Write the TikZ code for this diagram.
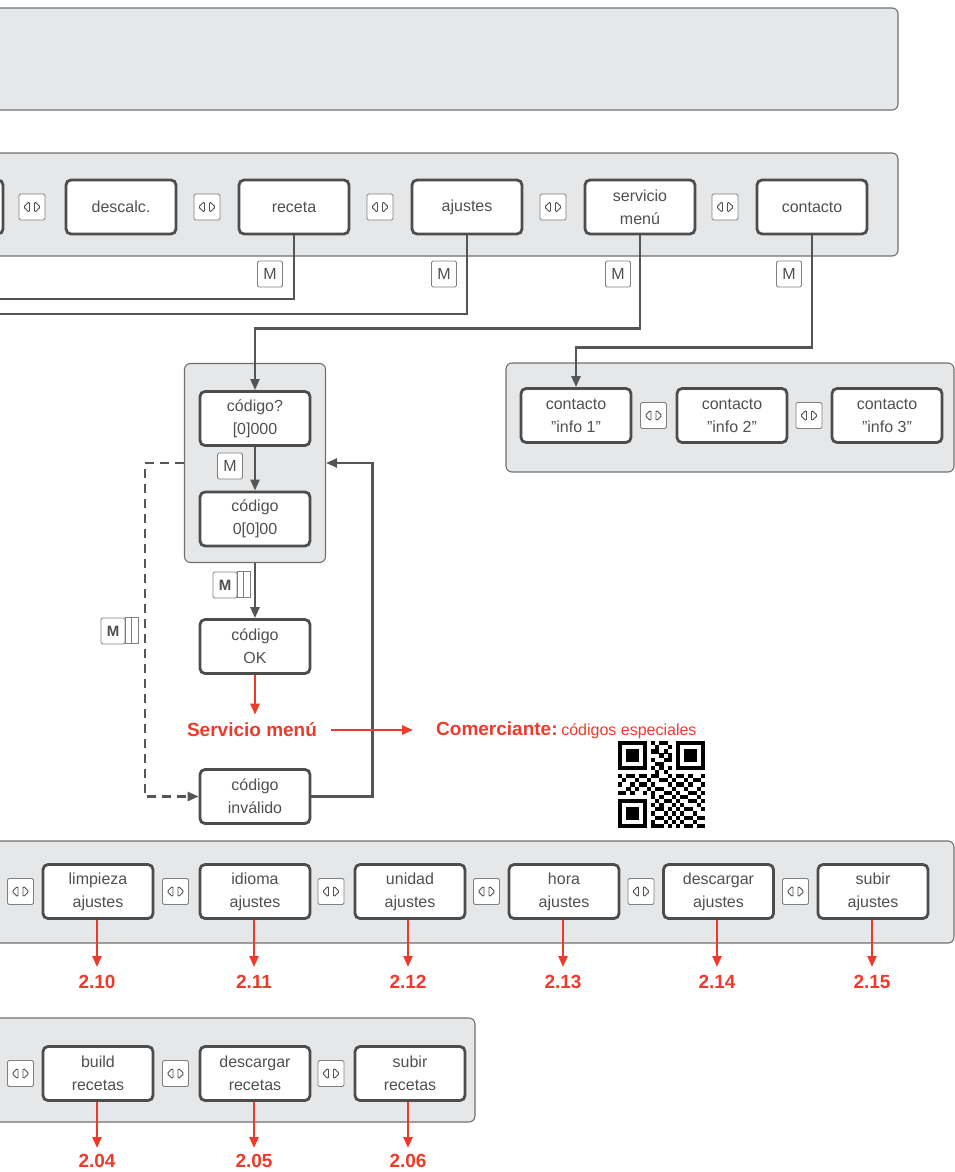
\documentclass[tikz,border=0pt]{standalone}
\usepackage{fontspec}
\setmainfont{Liberation Sans}
\usetikzlibrary{arrows.meta}
\definecolor{panelfill}{HTML}{E6E7E8}
\definecolor{panelline}{HTML}{707070}
\definecolor{boxline}{HTML}{4D4D4D}
\definecolor{keyline}{HTML}{808080}
\definecolor{txt}{HTML}{505050}
\definecolor{linecol}{HTML}{555555}
\definecolor{redcol}{HTML}{EE3A2A}

\begin{document}
\begin{tikzpicture}[x=1pt,y=-1pt,
  panel/.style={draw=panelline, fill=panelfill, rounded corners=6pt, line width=1.1pt},
  mbox/.style={draw=boxline, fill=white, rounded corners=5pt, line width=2.8pt, minimum width=110pt, minimum height=54pt, inner sep=0pt, align=center, text=txt, font=\fontsize{16}{23}\selectfont},
  key/.style={draw=keyline, fill=white, rounded corners=1.5pt, line width=0.8pt, minimum width=26pt, minimum height=26pt, inner sep=0pt, text=txt},
  nav/.style={key, path picture={
    \draw[txt, line width=0.9pt, line join=round, shift={(path picture bounding box.center)}]
      (-8.5,0) -- (-2.5,-5.5) -- (-2.5,5.5) -- cycle (2.5,-5.5) -- (8.5,0) -- (2.5,5.5) -- cycle;}},
  mkey/.style={key, minimum width=25pt, font=\fontsize{16}{16}\selectfont},
  mstack/.style={key, minimum width=24pt, font=\bfseries\fontsize{15}{15}\selectfont},
  link/.style={draw=linecol, line width=2.4pt},
  redlink/.style={draw=redcol, line width=2.4pt},
  tip/.style={-{Triangle[length=11pt,width=9pt]}},
  num/.style={text=redcol, font=\bfseries\fontsize{19}{19}\selectfont, inner sep=0pt, anchor=north},
  redtxt/.style={text=redcol, inner sep=0pt}]
\useasboundingbox (0,0) rectangle (955,1172);

% panels
\draw[panel] (-10,8) rectangle (898,110);
\draw[panel] (-10,153) rectangle (898,256);
\node[panel, minimum width=141pt, minimum height=199pt] (codepanel) at (255,463) {};
\draw[panel] (506,363) rectangle (954,472);
\draw[panel] (-10,841) rectangle (954,943);
\draw[panel] (-10,1018) rectangle (475,1122);

% main menu row
\node[mbox] (prev) at (-52,207) {};
\node[nav] (nv1) at (32,207) {};
\node[mbox] (descalc) at (121,207) {descalc.};
\node[nav] (nv2) at (207,207) {};
\node[mbox] (receta) at (294,207) {receta};
\node[nav] (nv3) at (380,207) {};
\node[mbox] (ajustes) at (467,207) {ajustes};
\node[nav] (nv4) at (553,207) {};
\node[mbox] (servicio) at (640,207) {servicio\\menú};
\node[nav] (nv5) at (725,207) {};
\node[mbox] (contacto) at (812,207) {contacto};

\node[mkey] (mrec) at (270,274) {M};
\node[mkey] (majs) at (444,274) {M};
\node[mkey] (msrv) at (618,274) {M};
\node[mkey] (mcon) at (789,274) {M};

\coordinate (recout) at (-10,299);
\coordinate (ajsout) at (-10,314);
\draw[link] (receta.south) |- (recout);
\draw[link] (ajustes.south) |- (ajsout);

% code entry
\node[mbox] (code1) at (255,418.5) {código?\\{[0]000}};
\node[mbox] (code2) at (255,519) {código\\0[0]00};
\node[mkey] (mcode) at (230,466) {M};
\node[mbox] (codeok) at (255,646.5) {código\\OK};
\node[mbox] (codebad) at (255,796.5) {código\\inválido};
\node[mstack] (mm1) at (225,585) {M};
\draw[keyline, line width=0.8pt, fill=white] (mm1.north east) rectangle ++(6,26) ++(0,-26) rectangle ++(7,26);
\node[mstack] (mm2) at (113,631) {M};
\draw[keyline, line width=0.8pt, fill=white] (mm2.north east) rectangle ++(6,26) ++(0,-26) rectangle ++(7,26);

\draw[link, tip] (servicio.south) -- ++(0,93) -| (code1.north);
\draw[link, tip] (code1.south) -- (code2.north);
\draw[link, tip] (codepanel.south) -- (codeok.north);
\draw[link, tip, dash pattern=on 9pt off 6pt] (codepanel.west) -- ++(-39,0) |- (codebad.west);
\draw[link, tip] (codebad.east) -- ++(61,0) |- (codepanel.east);

\node[redtxt, font=\bfseries\fontsize{19}{19}\selectfont] (svc) at (252,730) {Servicio menú};
\node[redtxt, anchor=west] (com) at (436,730) {{\bfseries\fontsize{19}{19}\selectfont Comerciante:} {\fontsize{16}{16}\selectfont códigos especiales}};
\draw[redlink, tip, shorten >=8pt] (codeok.south) -- (codeok.south |- svc.north);
\draw[redlink, tip, shorten <=14pt, shorten >=23pt] (svc.east) -- (svc.east -| com.west);

% qr code
\begin{scope}[shift={(618,741)}, x=4.14pt, y=-4.14pt]
\foreach \a/\b in {0/0,14/0,0/14} {
  \fill (\a,\b) rectangle ++(7,7);
  \fill[white] (\a+1,\b+1) rectangle ++(5,5);
  \fill (\a+2,\b+2) rectangle ++(3,3);
}
\foreach \r/\cs in {0/{8,10,11},1/{9,12},2/{8,9,11},3/{10,12},4/{8,11,12},5/{9,10},6/{8,10,12},7/{9,11},
  8/{0,2,3,5,6,8,9,12,14,15,17,20},9/{1,4,7,10,11,13,16,18,19},10/{0,3,5,6,8,12,14,15,17,20},
  11/{2,4,7,9,10,13,16,19},12/{0,1,3,6,8,11,12,14,17,18,20},13/{8,10,13,15,16,19},
  14/{9,11,12,14,17,18,20},15/{8,10,13,15,19},16/{9,10,12,14,16,17,20},17/{8,11,13,15,18},
  18/{9,10,12,14,16,17,19,20},19/{8,11,13,15,18},20/{8,9,10,12,14,16,17,19,20}}
  \foreach \c in \cs \fill (\c,\r) rectangle ++(1.02,1.02);
\end{scope}

% contact info
\node[mbox] (info1) at (576,415.5) {contacto\\"info 1”};
\node[nav] (nv6) at (653.5,415.5) {};
\node[mbox] (info2) at (732,415.5) {contacto\\"info 2”};
\node[nav] (nv7) at (809,415.5) {};
\node[mbox] (info3) at (887,415.5) {contacto\\"info 3”};
\draw[link, tip] (contacto.south) -- ++(0,112) -| (info1.north);

% settings row
\node[mbox] (prev2) at (-57,891.5) {};
\node[nav] (nv8) at (20.5,891.5) {};
\node[mbox] (limp) at (98,891.5) {limpieza\\ajustes};
\node[nav] (nv9) at (175.5,891.5) {};
\node[mbox] (idioma) at (255,891.5) {idioma\\ajustes};
\node[nav] (nv10) at (331,891.5) {};
\node[mbox] (unidad) at (410,891.5) {unidad\\ajustes};
\node[nav] (nv11) at (486.5,891.5) {};
\node[mbox] (hora) at (564,891.5) {hora\\ajustes};
\node[nav] (nv12) at (641,891.5) {};
\node[mbox] (descaj) at (718.5,891.5) {descargar\\ajustes};
\node[nav] (nv13) at (795.5,891.5) {};
\node[mbox] (subaj) at (873,891.5) {subir\\ajustes};

\node[num] (n210) at (97,975) {2.10};
\node[num] (n211) at (254,975) {2.11};
\node[num] (n212) at (408,975) {2.12};
\node[num] (n213) at (563,975) {2.13};
\node[num] (n214) at (717,975) {2.14};
\node[num] (n215) at (872,975) {2.15};
\draw[redlink, tip, shorten >=8pt] (limp.south -| n210) -- (n210.north);
\draw[redlink, tip, shorten >=8pt] (idioma.south -| n211) -- (n211.north);
\draw[redlink, tip, shorten >=8pt] (unidad.south -| n212) -- (n212.north);
\draw[redlink, tip, shorten >=8pt] (hora.south -| n213) -- (n213.north);
\draw[redlink, tip, shorten >=8pt] (descaj.south -| n214) -- (n214.north);
\draw[redlink, tip, shorten >=8pt] (subaj.south -| n215) -- (n215.north);

% recipe row
\node[mbox] (prev3) at (-57,1073.5) {};
\node[nav] (nv14) at (20.5,1073.5) {};
\node[mbox] (build) at (98,1073.5) {build\\recetas};
\node[nav] (nv15) at (175.5,1073.5) {};
\node[mbox] (descrec) at (255,1073.5) {descargar\\recetas};
\node[nav] (nv16) at (331,1073.5) {};
\node[mbox] (subrec) at (410,1073.5) {subir\\recetas};

\node[num] (n204) at (97,1154) {2.04};
\node[num] (n205) at (254,1154) {2.05};
\node[num] (n206) at (408,1154) {2.06};
\draw[redlink, tip, shorten >=6pt] (build.south -| n204) -- (n204.north);
\draw[redlink, tip, shorten >=6pt] (descrec.south -| n205) -- (n205.north);
\draw[redlink, tip, shorten >=6pt] (subrec.south -| n206) -- (n206.north);
\end{tikzpicture}
\end{document}
